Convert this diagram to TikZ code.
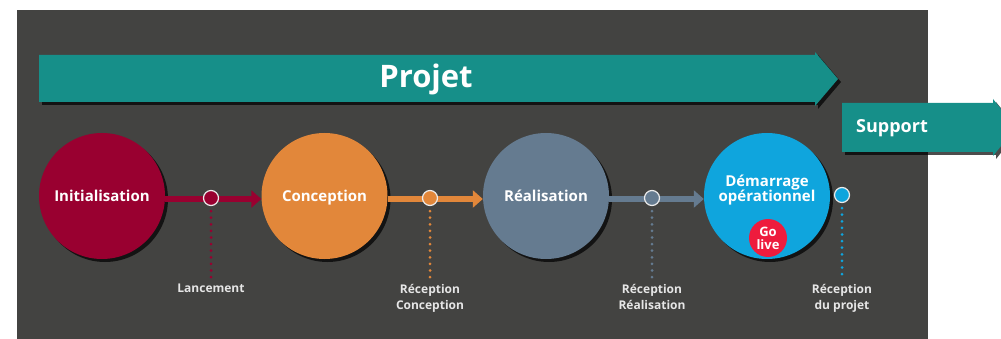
\documentclass[tikz,border=0pt]{standalone}
\usepackage{fontspec}
\setmainfont{Open Sans}
\usetikzlibrary{arrows.meta,shadows}
\definecolor{cBg}{HTML}{434341}
\definecolor{cTeal}{HTML}{168F89}
\definecolor{cInit}{HTML}{990030}
\definecolor{cConc}{HTML}{E2873A}
\definecolor{cReal}{HTML}{657B90}
\definecolor{cDem}{HTML}{0FA5DD}
\definecolor{cGo}{HTML}{EE1C3D}
\definecolor{cLbl}{HTML}{E6E6E6}
\tikzset{
  sh/.style={drop shadow={shadow xshift=3pt, shadow yshift=-3pt, opacity=0.7, fill=black}},
  phase/.style={circle, minimum size=126pt, inner sep=0pt, fill=#1, text=white,
    font=\bfseries\fontsize{15}{15.5}\selectfont, align=center, sh,
    text height=12pt, text depth=0pt},
  conn/.style={draw=#1, line width=6pt, -{Triangle[length=10pt,width=17pt]}},
  jalon/.style={circle, minimum size=15pt, inner sep=0pt, fill=#1, draw=white!85!gray, line width=1.2pt},
  dots/.style={draw=#1, line width=3pt, line cap=round, dash pattern=on 0pt off 6.6pt},
  lbl/.style={anchor=north, inner sep=0pt, text=cLbl, align=center,
    font=\bfseries\fontsize{12}{16}\selectfont},
  banner/.style={text=white, font=\bfseries\fontsize{#1}{#1}\selectfont}
}
\begin{document}
\begin{tikzpicture}[x=1pt,y=-1pt]
\useasboundingbox (0,0) rectangle (1001,339);
\clip (0,0) rectangle (1001,339);
\fill[cBg] (17,10) rectangle (928,339);

% Projet arrow
\path[fill=cTeal, sh] (39,55) -- (815,55) -- (815,52) -- (838,79) -- (815,106) -- (815,102) -- (39,102) -- cycle;
\node[banner=31] (projet) at (426,79) {Projet};

% Support arrow
\path[fill=cTeal, sh] (842,103) -- (993,103) -- (993,99) -- (1016,127.5) -- (993,156) -- (993,152) -- (842,152) -- cycle;
\node[banner=18, anchor=west, inner sep=0pt] (support) at (856,128) {Support};

% phases
\node[phase=cInit] (init) at (102,196) {Initialisation};
\node[phase=cConc] (conc) at (324.5,196) {Conception};
\node[phase=cReal] (real) at (546,196) {Réalisation};
\node[phase=cDem] (dem) at (767,196) {};
\node[text=white, font=\bfseries\fontsize{15}{15.5}\selectfont, align=center] (demtxt) at (767,190) {Démarrage\\opérationnel};
\node[circle, minimum size=38pt, inner sep=0pt, fill=cGo, text=white, align=center,
  font=\bfseries\fontsize{13}{13}\selectfont] (golive) at (768,238) {Go\\live};

% connectors
\draw[conn=cInit] ([yshift=-3pt]init.east) -- ([yshift=-3pt]conc.west);
\draw[conn=cConc] ([yshift=-3pt]conc.east) -- ([yshift=-3pt]real.west);
\draw[conn=cReal] ([yshift=-3pt]real.east) -- ([yshift=-3pt]dem.west);

% milestones
\node[jalon=cInit] (m1) at (211,198) {};
\node[jalon=cConc] (m2) at (430,198) {};
\node[jalon=cReal] (m3) at (652,198) {};
\node[jalon=cDem] (m4) at (842,195) {};

\coordinate (e1) at (211,278);
\coordinate (e2) at (430,278);
\coordinate (e3) at (652,278);
\coordinate (e4) at (842,278);
\draw[dots=cInit] ([yshift=-5pt]m1.south) -- (e1);
\draw[dots=cConc] ([yshift=-5pt]m2.south) -- (e2);
\draw[dots=cReal] ([yshift=-5pt]m3.south) -- (e3);
\draw[dots=cDem] ([yshift=-5pt]m4.south) -- (e4);

\node[lbl] (t1) at (211,284) {Lancement};
\node[lbl] (t2) at (430,284) {Réception\\Conception};
\node[lbl] (t3) at (652,284) {Réception\\Réalisation};
\node[lbl] (t4) at (842,284) {Réception\\du projet};
\end{tikzpicture}
\end{document}
